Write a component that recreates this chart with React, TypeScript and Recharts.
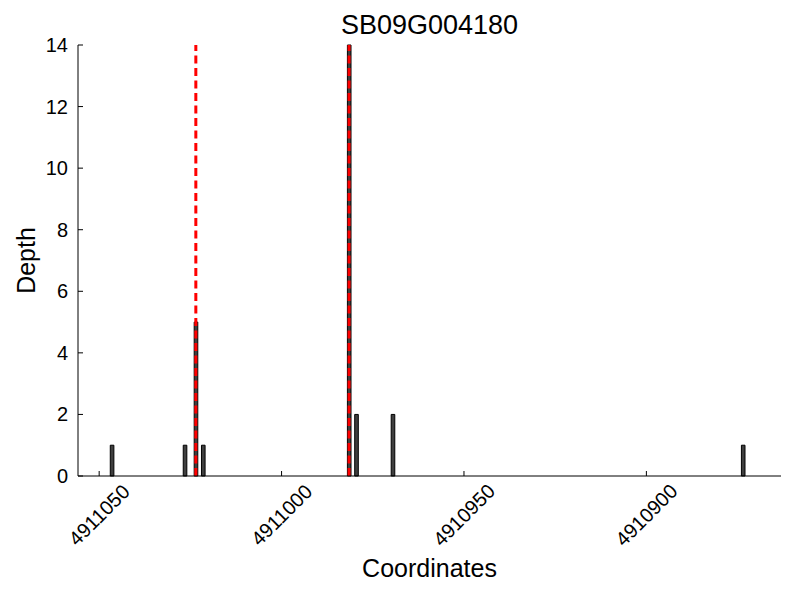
import React from "react";
import { ComposedChart, Bar, XAxis, YAxis, ReferenceLine, Label } from "recharts";

// read-depth bins (bin centre on the genomic coordinate axis)
const coords = [4911046.5, 4911026.5, 4911023.5, 4911021.5, 4910981.5, 4910979.5, 4910969.5, 4910873.5];
const depths = [1, 1, 5, 1, 14, 2, 2, 1];
// gene boundaries drawn as red dashed lines
const markers = [4911023.5, 4910981.5];
const xTicks = [4911050, 4911000, 4910950, 4910900];
const yTicks = [0, 2, 4, 6, 8, 10, 12, 14];

const FONT = "'Liberation Sans', Arial, Helvetica, sans-serif";

const data = coords.map((pos, i) => ({ pos, depth: depths[i] }));

// eslint-disable-next-line @typescript-eslint/no-explicit-any
function XTick({ x, y, payload }: any) {
  const cy = y + 39;
  return (
    <g>
      <line x1={x} y1={y} x2={x} y2={y - 5} stroke="#000" strokeWidth={1} />
      <text
        x={x}
        y={cy}
        textAnchor="middle"
        dominantBaseline="central"
        fontSize={20}
        fontFamily={FONT}
        fill="#000"
        transform={`rotate(-45 ${x} ${cy})`}
      >
        {payload.value}
      </text>
    </g>
  );
}

// eslint-disable-next-line @typescript-eslint/no-explicit-any
function YTick({ x, y, payload }: any) {
  return (
    <g>
      <line x1={x} y1={y} x2={x + 5} y2={y} stroke="#000" strokeWidth={1} />
      <text x={x - 10} y={y} textAnchor="end" dominantBaseline="central" fontSize={20} fontFamily={FONT} fill="#000">
        {payload.value}
      </text>
    </g>
  );
}

export default function App() {
  return (
    <div style={{ position: "absolute", left: 0, top: 0, width: 800, height: 600, background: "#fff" }}>
      <div
        style={{
          position: "absolute",
          left: 78,
          width: 703,
          top: 12,
          textAlign: "center",
          fontFamily: FONT,
          fontSize: 27,
          lineHeight: "27px",
          color: "#000",
        }}
      >
        SB09G004180
      </div>
      <ComposedChart width={800} height={600} data={data} margin={{ top: 45, right: 19, bottom: 0, left: 0 }}>
        <XAxis
          dataKey="pos"
          type="number"
          domain={[4910863.1, 4911055.8]}
          reversed
          allowDataOverflow
          ticks={xTicks}
          tick={<XTick />}
          tickSize={0}
          tickMargin={0}
          height={124}
          axisLine={{ stroke: "#000" }}
          tickLine={false}
        >
          <Label value="Coordinates" position="insideBottom" offset={23} fontSize={25} fontFamily={FONT} fill="#000" />
        </XAxis>
        <YAxis
          type="number"
          domain={[0, 14]}
          ticks={yTicks}
          tick={<YTick />}
          tickSize={0}
          tickMargin={0}
          width={78}
          axisLine={{ stroke: "#000" }}
          tickLine={false}
        >
          <Label
            value="Depth"
            angle={-90}
            position="insideLeft"
            offset={26}
            fontSize={25}
            fontFamily={FONT}
            fill="#000"
            style={{ textAnchor: "middle" }}
          />
        </YAxis>
        <Bar dataKey="depth" barSize={3.6} fill="#3f3f3f" stroke="#000" strokeWidth={1} isAnimationActive={false} />
        {markers.map((m) => (
          <ReferenceLine key={m} x={m} stroke="#ff0000" strokeWidth={3} strokeDasharray="8 4.5" />
        ))}
      </ComposedChart>
    </div>
  );
}
